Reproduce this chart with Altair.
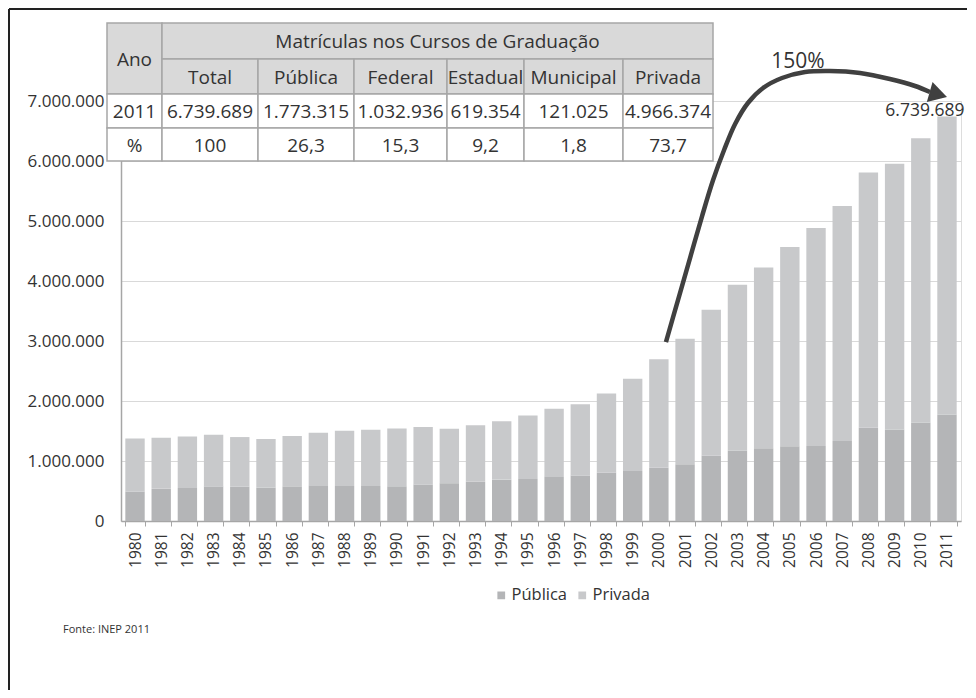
import altair as alt
import pandas as pd

# ---------------- data ----------------
years = list(range(1980, 2012))
publica = [492000, 536000, 548000, 577000, 572000, 557000, 578000, 585000, 585000, 584000,
           579000, 606000, 630000, 654000, 690000, 701000, 735000, 759000, 805000, 832000,
           887000, 945000, 1086000, 1176000, 1214000, 1247000, 1251000, 1335000, 1553000, 1524000,
           1643000, 1773315]
privada = [885000, 850000, 860000, 862000, 827000, 810000, 840000, 885000, 918000, 935000,
           961000, 959000, 906000, 941000, 971000, 1059000, 1134000, 1187000, 1321000, 1538000,
           1807000, 2091000, 2435000, 2761000, 3009000, 3321000, 3633000, 3915000, 4255000, 4430000,
           4736000, 4966374]
series_names = ["Pública", "Privada"]

# table (2011)
table_header_top = "Matrículas nos Cursos de Graduação"
table_first_col = ["Ano", "2011", "%"]
table_columns = ["Total", "Pública", "Federal", "Estadual", "Municipal", "Privada"]
table_values_2011 = ["6.739.689", "1.773.315", "1.032.936", "619.354", "121.025", "4.966.374"]
table_values_pct = ["100", "26,3", "15,3", "9,2", "1,8", "73,7"]

# arrow annotation (year position, enrolment value)
arrow_year = [2000.27, 2000.73, 2001.19, 2001.65, 2002.07, 2002.49, 2002.91, 2003.40,
              2003.98, 2004.70, 2005.58, 2006.53, 2007.68, 2008.82, 2009.78, 2010.35]
arrow_value = [2983000, 3683000, 4383000, 5083000, 5683000, 6183000, 6617000, 6967000,
               7217000, 7383000, 7483000, 7500000, 7467000, 7367000, 7250000, 7150000]
arrow_head_year = [2010.67]
arrow_head_value = [7108000]
growth_label = "150%"
growth_year = [2005.31]
growth_value = [7650000]
source_text = "Fonte: INEP 2011"

# ---------------- layout / style ----------------
W, H = 840, 420
P_INNER, P_OUTER = 0.26, 0.165
HALF = P_OUTER + (1 - P_INNER) / 2
X_QDOM = [years[0] - HALF, years[-1] + HALF]
Y_DOM = [0, 7000000]
FONT = "Open Sans"
TXT = "#333333"
COLORS = ["#b4b5b7", "#c8c9cb"]

# table geometry (plot pixel coordinates)
COL_EDGES = [-14, 41, 137, 233, 326, 403, 502, 592]
ROW_EDGES = [-78, -42, -7, 27, 60]
HEAD_FILL = "#d9d9d9"

# ---------------- frames ----------------
rows = []
for i, y in enumerate(years):
    rows.append({"ano": str(y), "serie": series_names[0], "valor": publica[i], "ord": 0})
    rows.append({"ano": str(y), "serie": series_names[1], "valor": privada[i], "ord": 1})
bars_df = pd.DataFrame(rows)

arrow_df = pd.DataFrame({"yr": arrow_year, "v": arrow_value})
head_df = pd.DataFrame({"yr": arrow_head_year, "v": arrow_head_value})
growth_df = pd.DataFrame({"yr": growth_year, "v": growth_value, "t": [growth_label]})
total_last = publica[-1] + privada[-1]
last_df = pd.DataFrame({"yr": [years[-1]], "v": [total_last],
                        "t": [f"{total_last:,}".replace(",", ".")]})

cells = []
cells.append(dict(x1=COL_EDGES[0], x2=COL_EDGES[1], y1=ROW_EDGES[0], y2=ROW_EDGES[2],
                  fill=HEAD_FILL, t=table_first_col[0]))
cells.append(dict(x1=COL_EDGES[1], x2=COL_EDGES[-1], y1=ROW_EDGES[0], y2=ROW_EDGES[1],
                  fill=HEAD_FILL, t=table_header_top))
for j, c in enumerate(table_columns):
    cells.append(dict(x1=COL_EDGES[j + 1], x2=COL_EDGES[j + 2], y1=ROW_EDGES[1], y2=ROW_EDGES[2],
                      fill=HEAD_FILL, t=c))
for r, (first, vals) in enumerate([(table_first_col[1], table_values_2011),
                                   (table_first_col[2], table_values_pct)]):
    y1, y2 = ROW_EDGES[2 + r], ROW_EDGES[3 + r]
    cells.append(dict(x1=COL_EDGES[0], x2=COL_EDGES[1], y1=y1, y2=y2, fill="#ffffff", t=first))
    for j, v in enumerate(vals):
        cells.append(dict(x1=COL_EDGES[j + 1], x2=COL_EDGES[j + 2], y1=y1, y2=y2,
                          fill="#ffffff", t=v))
cells_df = pd.DataFrame(cells)
cells_df["xc"] = (cells_df["x1"] + cells_df["x2"]) / 2
cells_df["yc"] = (cells_df["y1"] + cells_df["y2"]) / 2 + 1

y_label_expr = "replace(format(datum.value, ','), /,/g, '.')"

# ---------------- layers ----------------
bars = alt.Chart(bars_df).mark_bar().encode(
    x=alt.X("ano:N", title=None,
            scale=alt.Scale(paddingInner=P_INNER, paddingOuter=P_OUTER),
            axis=alt.Axis(labelAngle=270, labelFontSize=15.5, labelColor=TXT, labelFont=FONT,
                          labelPadding=6, ticks=True, tickBand="extent", tickSize=5,
                          tickColor="#a6a6a6", domainColor="#a6a6a6", domainWidth=1.5,
                          grid=False)),
    y=alt.Y("valor:Q", stack="zero", title=None,
            scale=alt.Scale(domain=Y_DOM, nice=False),
            axis=alt.Axis(values=list(range(0, 7000001, 1000000)), labelExpr=y_label_expr,
                          labelFontSize=17, labelColor=TXT, labelFont=FONT, labelPadding=17,
                          ticks=False, domainColor="#a6a6a6", domainWidth=1.5,
                          gridColor="#d9d9d9", gridWidth=1)),
    color=alt.Color("serie:N", scale=alt.Scale(domain=series_names, range=COLORS),
                    legend=alt.Legend(title=None, orient="none", legendX=372, legendY=486,
                                      direction="horizontal", symbolType="square",
                                      symbolSize=60, symbolStrokeWidth=0, labelFontSize=16.5,
                                      labelFont=FONT, labelColor=TXT, labelOffset=2,
                                      columnPadding=6)),
    order=alt.Order("ord:Q", sort="ascending"),
)

xq = alt.X("yr:Q", scale=alt.Scale(domain=X_QDOM, nice=False, zero=False), axis=None)
yq = alt.Y("v:Q", scale=alt.Scale(domain=Y_DOM, nice=False), axis=None)

arrow = alt.Chart(arrow_df).mark_line(color="#404040", strokeWidth=4.5,
                                      interpolate="catmull-rom", clip=False).encode(x=xq, y=yq)
head = alt.Chart(head_df).mark_point(shape="M 1 0 L -1 -1.15 L -1 1.15 Z", size=324,
                                     filled=True, color="#404040", opacity=1, angle=16,
                                     clip=False).encode(x=xq, y=yq)
growth = alt.Chart(growth_df).mark_text(fontSize=21, font=FONT, color=TXT, baseline="middle",
                                        align="center").encode(x=xq, y=yq, text="t:N")
last_lbl = alt.Chart(last_df).mark_text(fontSize=17.5, font=FONT, color=TXT,
                                        baseline="alphabetic", align="center",
                                        dx=-22, dy=-1).encode(x=xq, y=yq, text="t:N")

tbl_rect = alt.Chart(cells_df).mark_rect(stroke="#a6a6a6", strokeWidth=1.5).encode(
    x=alt.X("x1:Q", scale=None), x2="x2:Q",
    y=alt.Y("y1:Q", scale=None), y2="y2:Q",
    fill=alt.Fill("fill:N", scale=None))
tbl_text = alt.Chart(cells_df).mark_text(fontSize=19, font=FONT, color=TXT,
                                         baseline="middle", align="center").encode(
    x=alt.X("xc:Q", scale=None), y=alt.Y("yc:Q", scale=None), text="t:N")

dummy = pd.DataFrame({"k": [0]})
border_top = alt.Chart(dummy).mark_rule(color="#222222", strokeWidth=2).encode(
    x=alt.value(-112), x2=alt.value(846), y=alt.value(-92))
border_left = alt.Chart(dummy).mark_rule(color="#222222", strokeWidth=2).encode(
    x=alt.value(-112), y=alt.value(-92), y2=alt.value(589))
source = alt.Chart(dummy).mark_text(fontSize=11, font=FONT, color=TXT, align="left",
                                    baseline="middle").encode(
    x=alt.value(-58), y=alt.value(529), text=alt.value(source_text))

chart = alt.layer(
    bars, arrow, head, growth, last_lbl, tbl_rect, tbl_text, border_top, border_left, source
).resolve_scale(
    x="independent", y="independent"
).properties(
    width=W, height=H, padding=0, background="white"
).configure_view(stroke=None).configure(font=FONT)

chart.save("out.html", embed_options={"renderer": "svg", "actions": False})
